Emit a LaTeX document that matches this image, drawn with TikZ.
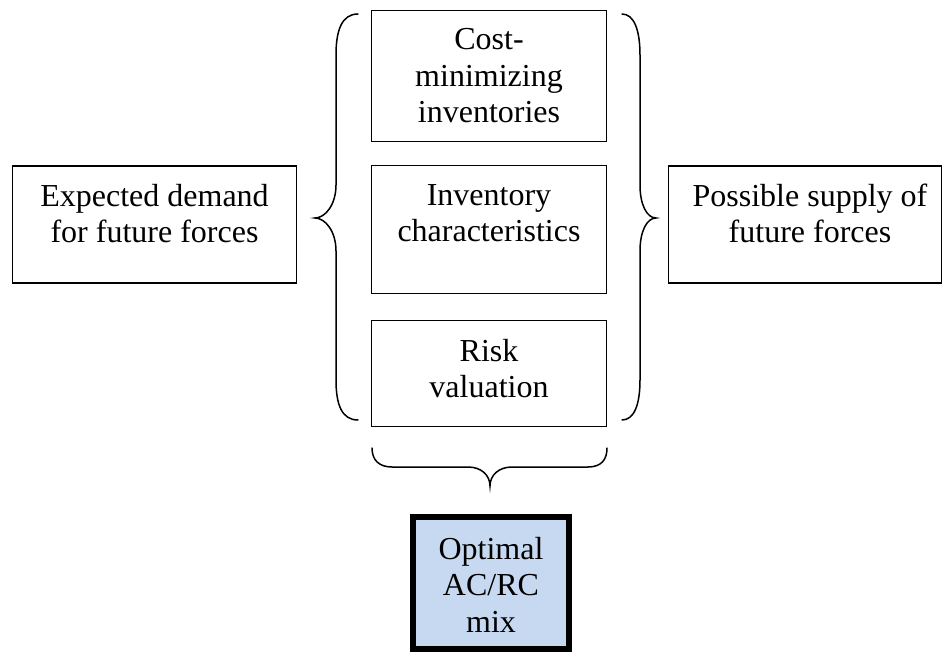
\documentclass[tikz,border=0pt]{standalone}
\usepackage{fontspec}
\setmainfont{Liberation Serif}
\definecolor{optblue}{HTML}{C6D9F1}
\begin{document}
\begin{tikzpicture}[x=1pt,y=-1pt,
  box/.style={draw, line width=1.3pt, inner sep=0pt},
  txt/.style={align=center, inner sep=0pt, anchor=base, font=\fontsize{32}{36.5}\selectfont},
  bracepath/.style={line width=1.5pt, line cap=round}]
\useasboundingbox (0,0) rectangle (943,652);
% boxes
\node[box, minimum width=284pt, minimum height=117pt] (L) at (154.5,224.5) {};
\node[box, minimum width=235pt, minimum height=131pt] (M1) at (489,76) {};
\node[box, minimum width=235pt, minimum height=128pt] (M2) at (489,229.5) {};
\node[box, minimum width=235pt, minimum height=106pt] (M3) at (489,373.5) {};
\node[box, minimum width=273pt, minimum height=117pt] (R) at (805,224.5) {};
\node[draw, line width=6pt, fill=optblue, inner sep=0pt, minimum width=156pt, minimum height=132pt] (B) at (491,583) {};
% texts (anchored at the baseline of the last line)
\node[txt] (Lt) at (154.5,243) {Expected demand\\for future forces};
\node[txt] (M1t) at (489,123) {Cost-\\minimizing\\inventories};
\node[txt] (M2t) at (489,242) {Inventory\\characteristics};
\node[txt] (M3t) at (489,398) {Risk\\valuation};
\node[txt] (Rt) at (810,243) {Possible supply of\\future forces};
\node[txt] (Bt) at (491,632) {Optimal\\AC/RC\\mix};
% left brace
\draw[bracepath] (358,14) .. controls (342,14) and (336,30) .. (336,55) -- (336,185)
  .. controls (336,205) and (325,218) .. (315,218)
  .. controls (325,218) and (336,231) .. (336,251) -- (336,380)
  .. controls (336,405) and (342,420) .. (358,420);
% right brace
\draw[bracepath] (622,14) .. controls (634,14) and (640,30) .. (640,55) -- (640,185)
  .. controls (640,205) and (647,218) .. (656,218)
  .. controls (647,218) and (640,231) .. (640,251) -- (640,380)
  .. controls (640,405) and (634,420) .. (622,420);
% bottom brace
\draw[bracepath] (372,448) .. controls (372,460) and (379,467) .. (392,467) -- (468,467)
  .. controls (481,467) and (490,475) .. (490,486)
  .. controls (490,475) and (499,467) .. (512,467) -- (588,467)
  .. controls (601,467) and (607,460) .. (607,448);
\end{tikzpicture}
\end{document}
